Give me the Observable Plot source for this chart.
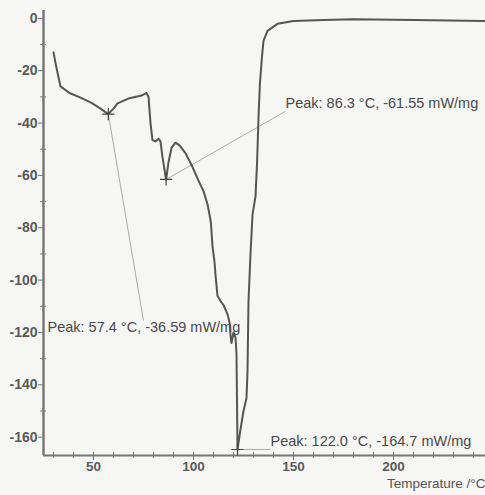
<!DOCTYPE html>
<html>
<head>
<meta charset="utf-8">
<script src="https://cdn.jsdelivr.net/npm/d3@7"></script>
<script src="https://cdn.jsdelivr.net/npm/@observablehq/plot@0.6"></script>
<style>
  html, body { margin: 0; padding: 0; background: #f6f6f4; }
  #chart { width: 485px; height: 495px; overflow: hidden; }
</style>
</head>
<body>
<div id="chart"></div>
<script>
// DSC curve: temperature (°C) and heat flow (mW/mg)
const temperature = [30, 31.5, 33.5, 38, 43.5, 49, 53.5, 57.4, 60, 62, 68, 74, 76.5, 77.5, 78.5, 79.5, 81, 82.5, 83.5, 84.5, 86.3, 87.5, 89, 91, 93, 96, 99, 102.5, 105, 107, 108, 108.7, 109.5, 110.5, 111, 112, 113.5, 115, 117, 118, 118.5, 119, 120, 121, 121.5, 122, 123.5, 125, 126.5, 127, 127.5, 128.5, 129.5, 131, 131.8, 132.5, 133.2, 134.2, 135, 137, 142, 150, 165, 180, 210, 246];
const dsc = [-13, -19, -26, -28.5, -30.3, -32.3, -34.5, -36.59, -34.5, -32.5, -30.5, -29.5, -28.5, -30, -40, -46.5, -47, -46, -47, -53, -61.55, -55, -49.5, -47.5, -48.5, -51.5, -56, -62, -66, -71, -75, -78, -87, -93, -98, -106, -108, -109.5, -113, -116, -121, -124, -120, -122, -128, -164.7, -157, -150, -145, -135, -108, -90, -75, -68, -55, -38, -25, -15, -8.6, -4.8, -2.1, -1, -0.6, -0.3, -0.6, -1];

// Peak annotations
const peakT = [57.4, 86.3, 122.0];
const peakY = [-36.59, -61.55, -164.7];
const peakLabels = ["Peak: 57.4 °C, -36.59 mW/mg", "Peak: 86.3 °C, -61.55 mW/mg", "Peak: 122.0 °C, -164.7 mW/mg"];
const labelT = [27, 146, 138.5];      // where each label starts (°C)
const labelY = [-118, -32.5, -161.5]; // label vertical centre (mW/mg)
const leaderT = [75, 146, 138.5];     // where each leader line ends
const leaderY = [-115.5, -35.5, -164.7];

// Axis ticks
const xMajor = [50, 100, 150, 200];
const xMinor = d3.range(30, 246, 10);
const yMajor = [0, -20, -40, -60, -80, -100, -120, -140, -160];
const yMinor = d3.range(-10, -167, -20);
const xLabel = "Temperature /°C";

const curve = temperature.map((t, i) => ({t, v: dsc[i]}));
const peaks = peakT.map((t, i) => ({
  t, v: peakY[i], label: peakLabels[i],
  lt: labelT[i], lv: labelY[i], et: leaderT[i], ev: leaderY[i]
}));

const font = "Liberation Sans, Arial, sans-serif";
const xMin = 25, xMax = 246, yMin = -167, yMax = 3;

const plot = Plot.plot({
  width: 485,
  height: 495,
  marginLeft: 43,
  marginRight: 0,
  marginTop: 10,
  marginBottom: 40,
  style: {background: "transparent", fontFamily: font, color: "#555"},
  x: {domain: [xMin, xMax]},
  y: {domain: [yMin, yMax]},
  marks: [
    // minor ticks
    Plot.ruleX(xMinor, {x: d => d, y1: yMin, y2: yMin, stroke: "#777", strokeWidth: 1,
      insetTop: -3, insetBottom: -3}),
    Plot.ruleY(yMinor, {y: d => d, x1: xMin, x2: xMin, stroke: "#777", strokeWidth: 1,
      insetLeft: -3, insetRight: -3}),
    Plot.axisX({ticks: xMajor, tickSize: 5, tickPadding: 1, fontSize: 13.5, fontWeight: "bold",
      stroke: "#777", fill: "#5a5a5a", label: null, tickFormat: d => String(d)}),
    Plot.axisY({ticks: yMajor, tickSize: 5, tickPadding: 1, fontSize: 14, fontWeight: "bold",
      stroke: "#777", fill: "#5a5a5a", label: null, tickFormat: d => String(d)}),
    // axis lines
    Plot.ruleX([xMin], {stroke: "#777", strokeWidth: 2.5}),
    Plot.ruleY([yMin], {stroke: "#777", strokeWidth: 2}),
    // leader lines
    Plot.link(peaks, {x1: "t", y1: "v", x2: "et", y2: "ev", stroke: "#aaa", strokeWidth: 1}),
    // curve
    Plot.line(curve, {x: "t", y: "v", stroke: "#555", strokeWidth: 2, curve: "linear"}),
    // peak markers
    Plot.dot(peaks, {x: "t", y: "v", symbol: "plus", r: 4, stroke: "#444", strokeWidth: 1.2}),
    // labels
    Plot.text(peaks, {x: "lt", y: "lv", text: "label", textAnchor: "start", fontSize: 14.5,
      fill: "#4a4a4a", fontFamily: font}),
    Plot.text([xLabel], {frameAnchor: "bottom-right", dy: 32, textAnchor: "end", fontSize: 13.5,
      fill: "#555", fontFamily: font})
  ]
});
document.getElementById("chart").appendChild(plot);
</script>
</body>
</html>
